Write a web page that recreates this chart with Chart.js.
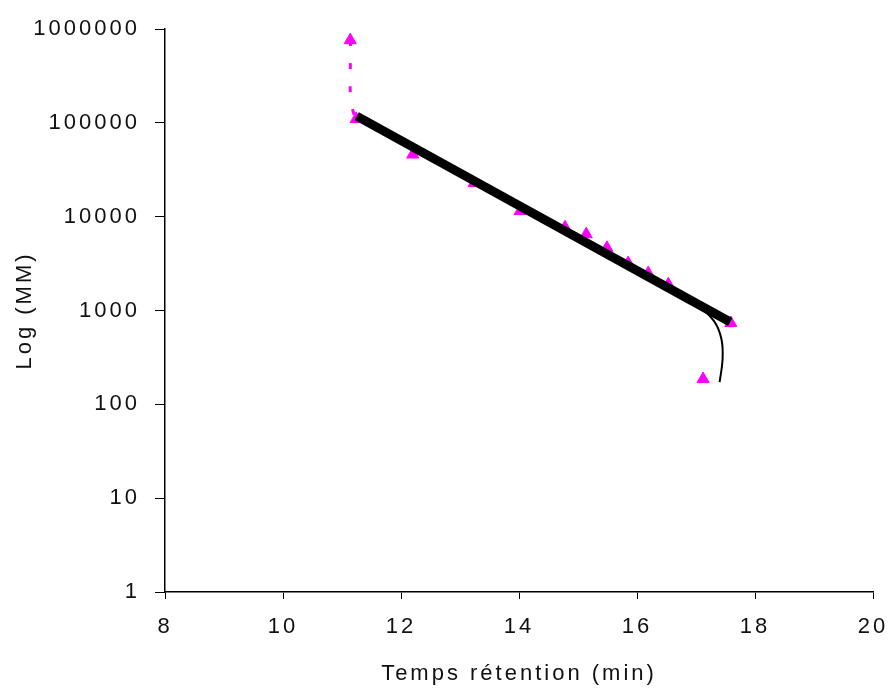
<!DOCTYPE html>
<html>
<head>
<meta charset="utf-8">
<script src="https://cdn.jsdelivr.net/npm/chart.js@4"></script>
<style>
  html, body { margin: 0; padding: 0; background: #fff; }
  #wrap { width: 888px; height: 693px; position: relative; }
</style>
</head>
<body>
<div id="wrap"><canvas id="chart"></canvas></div>
<script>
// calibration points (retention time in min, molar mass)
var PEAK_TIME = [11.14, 11.24, 12.2, 13.24, 14.02, 14.78, 15.14, 15.49, 15.85, 16.19, 16.53, 17.12, 17.59];
var PEAK_MM = [760000, 110000, 46000, 22800, 11500, 7700, 6500, 4650, 3200, 2500, 1900, 186, 736];

// exponential trend line end points
var FIT_TIME = [11.25, 17.58];
var FIT_MM = [118000, 754];

// thin smoothed curve at the low end
var CURVE_TIME = [16.4, 17.0, 17.3, 17.43, 17.45, 17.4];
var CURVE_MM = [1930, 1150, 780, 500, 300, 172];

var X_TICKS = [8, 10, 12, 14, 16, 18, 20];
var Y_TICKS = [1, 10, 100, 1000, 10000, 100000, 1000000];

function pairs(xs, ys) {
  return xs.map(function (x, i) { return { x: x, y: ys[i] }; });
}

var LAST_LINKED = 1; // dashed line only visible on the first segment

var font = { family: '"Liberation Sans", Arial, sans-serif', size: 22 };
var ink = '#111';

var spacing = {
  id: 'spacing',
  beforeLayout: function (chart) { chart.ctx.letterSpacing = '3px'; },
  beforeDraw: function (chart) { chart.ctx.letterSpacing = '3px'; }
};

new Chart(document.getElementById('chart'), {
  type: 'scatter',
  data: {
    datasets: [
      {
        label: 'Trend',
        data: pairs(FIT_TIME, FIT_MM),
        showLine: true,
        borderColor: '#000',
        borderWidth: 9,
        pointRadius: 0,
      },
      {
        label: 'Curve',
        data: pairs(CURVE_TIME, CURVE_MM),
        showLine: true,
        borderColor: '#000',
        borderWidth: 2,
        tension: 0.4,
        pointRadius: 0,
      },
      {
        label: 'MM',
        data: pairs(PEAK_TIME, PEAK_MM),
        showLine: true,
        borderColor: '#ff00ff',
        borderWidth: 3,
        borderDash: [6, 17],
        tension: 0.3,
        pointStyle: 'triangle',
        pointRadius: 7,
        pointBackgroundColor: '#ff00ff',
        pointBorderColor: '#ff00ff',
        pointBorderWidth: 1,
        segment: {
          borderColor: function (ctx) {
            return ctx.p1DataIndex > LAST_LINKED ? 'rgba(0,0,0,0)' : undefined;
          },
        },
      },
    ],
  },
  options: {
    responsive: true,
    maintainAspectRatio: false,
    animation: false,
    layout: { padding: { top: 29, right: 0, left: 0, bottom: 0 } },
    plugins: {
      legend: { display: false },
      tooltip: { enabled: false },
    },
    scales: {
      x: {
        type: 'linear',
        min: 8,
        max: 20,
        afterBuildTicks: function (scale) {
          scale.ticks = X_TICKS.map(function (v) { return { value: v }; });
        },
        afterFit: function (scale) {
          scale.height = 101;
          scale.paddingLeft = 0;
          scale.paddingRight = 15;
        },
        grid: { drawOnChartArea: false, drawTicks: true, tickLength: 7, color: '#000' },
        border: { display: true, color: '#000', width: 1.5 },
        ticks: { color: ink, font: font, padding: 15, maxRotation: 0 },
        title: {
          display: true,
          text: 'Temps rétention (min)',
          color: ink,
          font: font,
          padding: { top: 0, bottom: 6 },
        },
      },
      y: {
        type: 'logarithmic',
        min: 1,
        max: 1000000,
        afterBuildTicks: function (scale) {
          scale.ticks = Y_TICKS.map(function (v) { return { value: v }; });
        },
        afterFit: function (scale) { scale.width = 165; },
        grid: { drawOnChartArea: false, drawTicks: true, tickLength: 10, color: '#000' },
        border: { display: true, color: '#000', width: 1.5 },
        ticks: {
          color: ink,
          font: font,
          padding: 15,
          callback: function (value) { return String(value); },
        },
        title: {
          display: true,
          text: 'Log (MM)',
          color: ink,
          font: font,
          padding: { top: 12, bottom: 0 },
        },
      },
    },
  },
  plugins: [spacing],
});
</script>
</body>
</html>
